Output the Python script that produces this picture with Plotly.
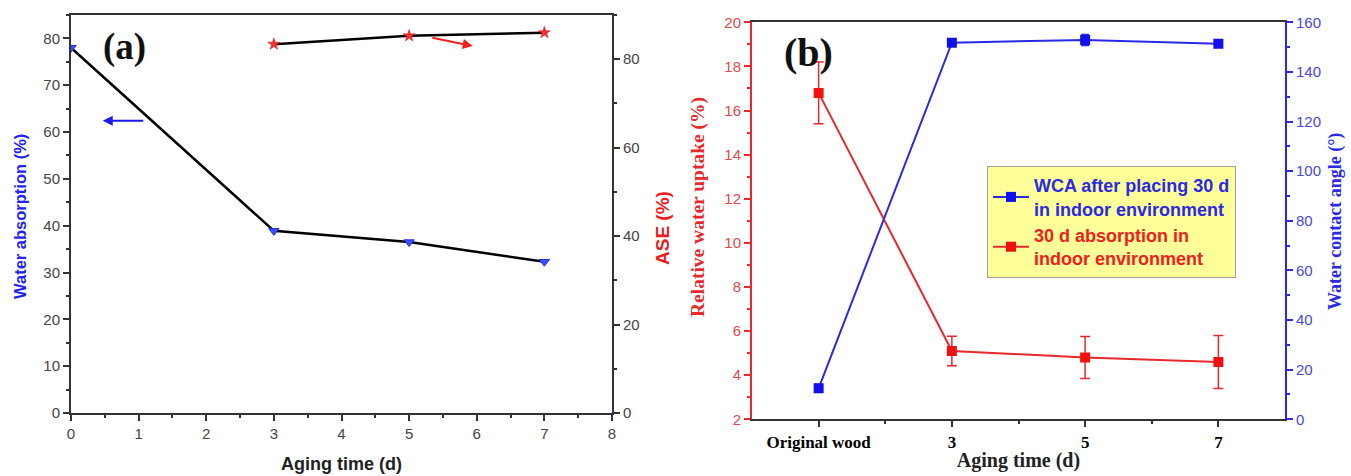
import plotly.graph_objects as go

# ---------------- data ----------------
# panel (a)
aging_a = [0, 3, 5, 7]
water_abs = [78.0, 38.9, 36.5, 32.3]
ase_days = [3, 5, 7]
ase = [83.4, 85.3, 86.0]

# panel (b)
cats_b = ["Original wood", "3", "5", "7"]
uptake = [16.8, 5.1, 4.8, 4.6]
uptake_err = [1.4, 0.67, 0.95, 1.2]
wca = [12.5, 151.8, 152.9, 151.4]
wca_err = [1.5, 1.0, 2.2, 1.0]

W, H = 1351, 476
def px(x):
    return x / W
def py(y):
    return 1 - y / H

SANS = "Arial, Liberation Sans, sans-serif"
SERIF = "Times New Roman, Liberation Serif, serif"
DARK = "#333333"
BLUE_A = "#2323ee"
RED_A = "#ee1c1c"
RED_B = "#e8282c"
BLUE_B = "#2a2ae6"

xb = list(range(len(cats_b)))

fig = go.Figure()

# ---- panel (a) ----
fig.add_trace(go.Scatter(
    x=aging_a, y=water_abs, mode="lines+markers",
    line=dict(color="black", width=2.5),
    marker=dict(symbol="triangle-down", size=9, color="#3f4dff",
                line=dict(color="#1f2fe0", width=1)),
    xaxis="x", yaxis="y", showlegend=False))
fig.add_trace(go.Scatter(
    x=ase_days, y=ase, mode="lines+markers",
    line=dict(color="black", width=2.5),
    marker=dict(symbol="star", size=9, color="#f03030",
                line=dict(color="#d01010", width=0.5)),
    xaxis="x", yaxis="y2", showlegend=False))

# ---- panel (b) ----
fig.add_trace(go.Scatter(
    x=xb, y=wca, mode="lines+markers",
    name="<span style='color:#2a2ae6'>WCA after placing 30 d<br>in indoor environment</span>",
    line=dict(color=BLUE_B, width=2),
    marker=dict(symbol="square", size=10, color="#1010ee"),
    error_y=dict(type="data", array=wca_err, color=BLUE_B, thickness=1.5, width=4),
    xaxis="x3", yaxis="y4"))
fig.add_trace(go.Scatter(
    x=xb, y=uptake, mode="lines+markers",
    name="<span style='color:#ee2020'>30 d absorption in<br>indoor environment</span>",
    line=dict(color=RED_B, width=2),
    marker=dict(symbol="square", size=10, color="#f01010"),
    error_y=dict(type="data", array=uptake_err, color=RED_B, thickness=1.5, width=5),
    xaxis="x3", yaxis="y3"))

tick_common = dict(ticks="outside", ticklen=6, tickwidth=1.5, showgrid=False,
                   zeroline=False, showline=True, linewidth=2, automargin=False)

fig.update_layout(
    width=W, height=H,
    margin=dict(l=0, r=0, t=0, b=0),
    paper_bgcolor="white", plot_bgcolor="white",
    xaxis=dict(domain=[px(71), px(612)], anchor="y", range=[0, 8], dtick=1, tick0=0,
               tickcolor=DARK, linecolor=DARK, mirror=True,
               title=dict(text="<b>Aging time (d)</b>", standoff=16,
                          font=dict(family=SANS, size=18, color="#222222")),
               minor=dict(dtick=0.5, ticks="outside", ticklen=3, tickwidth=1.5, tickcolor=DARK),
               tickfont=dict(family=SANS, size=15, color="#444444"), **tick_common),
    yaxis=dict(domain=[py(413), py(15)], anchor="x", range=[0, 85], dtick=10, tick0=0,
               tickcolor=DARK, linecolor=DARK,
               minor=dict(dtick=5, ticks="outside", ticklen=3, tickwidth=1.5, tickcolor=DARK),
               tickfont=dict(family=SANS, size=15, color="#444444"), **tick_common),
    yaxis2=dict(overlaying="y", side="right", anchor="x", range=[0, 90], dtick=20, tick0=0,
                tickcolor=DARK, linecolor=DARK,
                minor=dict(dtick=10, ticks="outside", ticklen=3, tickwidth=1.5, tickcolor=DARK),
                tickfont=dict(family=SANS, size=15, color="#444444"), **tick_common),
    xaxis3=dict(domain=[px(752), px(1285)], anchor="y3", range=[-0.5, 3.5],
                tickvals=xb, ticktext=cats_b,
                tickcolor=DARK, linecolor=DARK, mirror=True,
                title=dict(text="<b>Aging time (d)</b>", standoff=2,
                           font=dict(family=SERIF, size=20, color="#222222")),
                minor=dict(tickvals=[0.5, 1.5, 2.5], ticks="outside", ticklen=3, tickwidth=1.5, tickcolor=DARK),
                tickfont=dict(family=SERIF, size=17, color="black", weight="bold"), **tick_common),
    yaxis3=dict(domain=[py(419.3), py(22.3)], anchor="x3", range=[2, 20], dtick=2, tick0=2,
                tickcolor=RED_B, linecolor=RED_B,
                minor=dict(dtick=1, ticks="outside", ticklen=3, tickwidth=1.5, tickcolor=RED_B),
                tickfont=dict(family=SANS, size=15, color="#e04a4a"), **tick_common),
    yaxis4=dict(overlaying="y3", side="right", anchor="x3", range=[0, 160], dtick=20, tick0=0,
                tickcolor=BLUE_B, linecolor=BLUE_B,
                minor=dict(dtick=10, ticks="outside", ticklen=3, tickwidth=1.5, tickcolor=BLUE_B),
                tickfont=dict(family=SANS, size=15, color="#4848d8"), **tick_common),
    legend=dict(x=px(987), y=py(166), xanchor="left", yanchor="top",
                bgcolor="#ffff99", bordercolor="#a0a0a0", borderwidth=1,
                font=dict(family=SANS, size=18, weight="bold"),
                itemwidth=36, tracegroupgap=0),
    showlegend=True,
)

C = dict(xref="paper", yref="paper", showarrow=False, xanchor="center", yanchor="middle")
ann = []
# panel labels
ann.append(dict(text="<b>(a)</b>", x=px(124), y=py(47),
                font=dict(family=SERIF, size=37, color="#111111"), **C))
ann.append(dict(text="<b>(b)</b>", x=px(808), y=py(52),
                font=dict(family=SERIF, size=40, color="#111111"), **C))
# y-axis titles panel (a)
ann.append(dict(text="<b>Water absorption (%)</b>", x=px(20), y=py(217), textangle=-90,
                font=dict(family=SANS, size=16.5, color=BLUE_A), **C))
ann.append(dict(text="<b>ASE (%)</b>", x=px(662), y=py(228), textangle=-90,
                font=dict(family=SANS, size=19, color=RED_A), **C))
# y-axis titles panel (b)
ann.append(dict(text="<b>Relative water uptake (%)</b>", x=px(698), y=py(207), textangle=-90,
                font=dict(family=SERIF, size=19.5, color=RED_B), **C))
ann.append(dict(text="<b>Water contact angle (°)</b>", x=px(1335), y=py(222), textangle=-90,
                font=dict(family=SERIF, size=18, color=BLUE_B), **C))
# arrows panel (a)
ann.append(dict(x=0.47, y=62.4, ax=1.09, ay=62.4, xref="x", yref="y", axref="x", ayref="y",
                text="", showarrow=True, arrowhead=2, arrowsize=1, arrowwidth=2, arrowcolor="#1a1aee"))
ann.append(dict(x=5.94, y=83.0, ax=5.32, ay=84.9, xref="x", yref="y2", axref="x", ayref="y2",
                text="", showarrow=True, arrowhead=2, arrowsize=1, arrowwidth=2, arrowcolor="#ee2020"))
fig.update_layout(annotations=ann)

fig.write_html("out.html", config={"displayModeBar": False},
               post_script="document.body.style.margin='0px';document.body.style.overflow='hidden';")
